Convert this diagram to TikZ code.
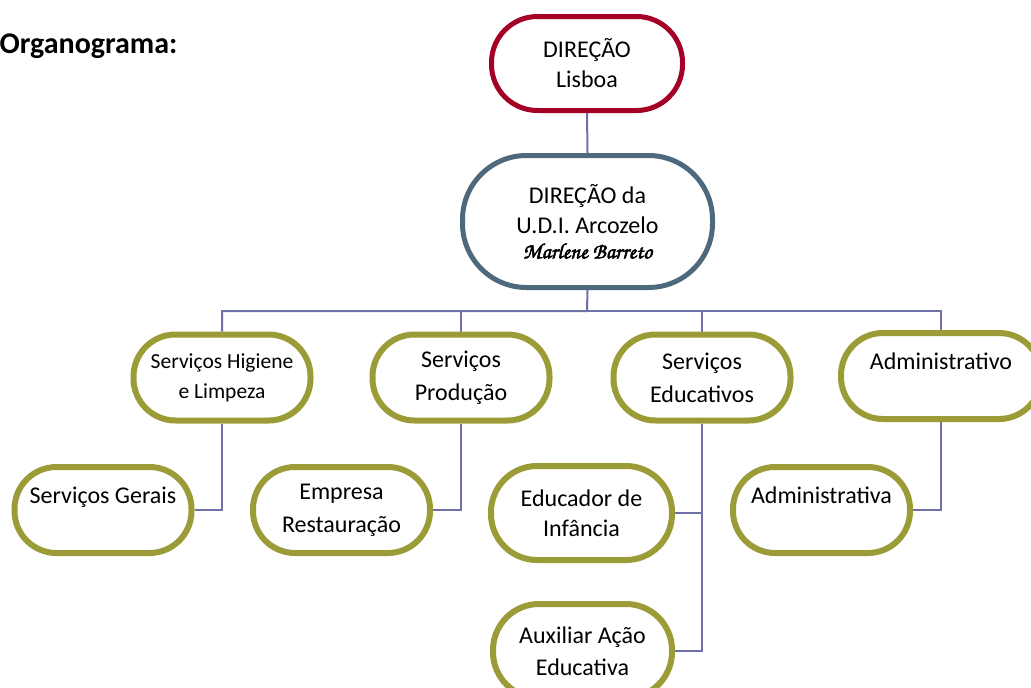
\documentclass[tikz,border=0pt]{standalone}
\usepackage{fontspec}
\setmainfont{Carlito}
\newfontfamily\sigfont{TeX Gyre Chorus}[FakeBold=2.5]
\usetikzlibrary{backgrounds}
\definecolor{redc}{RGB}{165,0,38}
\definecolor{bluec}{RGB}{79,105,124}
\definecolor{olivec}{RGB}{155,155,55}
\definecolor{linec}{RGB}{112,112,168}
\begin{document}
\begin{tikzpicture}[x=1pt,y=-1pt,
  box/.style={draw, fill=white, inner sep=0pt, align=center,
    font=\fontsize{24}{30}\selectfont},
  topbox/.style={box, draw=redc, line width=5pt, minimum width=191pt,
    minimum height=94pt, rounded corners=46pt},
  udibox/.style={box, draw=bluec, line width=5pt, minimum width=250pt,
    minimum height=132pt, rounded corners=64pt},
  leaf/.style={box, draw=olivec, line width=6pt, minimum width=177pt,
    minimum height=86pt, rounded corners=42pt},
  conn/.style={draw=linec, line width=2pt}]
\useasboundingbox (0,0) rectangle (1031,688);
\clip (0,0) rectangle (1031,688);

\node[anchor=base west, font=\fontsize{30}{36}\selectfont\bfseries] (title) at (-4,53) {Organograma:};

\node[topbox] (lisboa) at (587,63.5) {DIREÇÃO\\Lisboa};
\node[udibox] (udi) at (587.5,221.5) {DIREÇÃO da\\U.D.I. Arcozelo\\[-5pt]{\sigfont\fontsize{22}{24}\selectfont Marlene Barreto}};

\node[leaf, font=\fontsize{21.5}{30}\selectfont] (higiene) at (222,377.5) {Serviços Higiene\\e Limpeza};
\node[leaf] (producao) at (461,377.5) {Serviços\\[3pt]Produção};
\node[leaf] (educativos) at (702,377.5) {Serviços\\[3pt]Educativos};
\node[leaf, minimum width=200pt] (admin) at (941,376) {Administrativo\\~};

\node[leaf] (gerais) at (103,510) {Serviços Gerais\\~};
\node[leaf] (empresa) at (341.5,510) {Empresa\\[3pt]Restauração};
\node[leaf, minimum width=181pt, minimum height=94pt, rounded corners=46pt] (educador) at (581.5,513) {Educador de\\Infância};
\node[leaf, minimum width=179pt, minimum height=94pt, rounded corners=46pt] (auxiliar) at (582.5,651) {Auxiliar Ação\\[2pt]Educativa};
\node[leaf] (administrativa) at (821.5,510) {Administrativa\\~};

\coordinate (bus) at (587,311);
\begin{scope}[on background layer]
\draw[conn] (lisboa.south) -- (udi.north);
\draw[conn] (udi.south) -- (bus) -| (higiene.north);
\draw[conn] (bus) -| (producao.north);
\draw[conn] (bus) -| (educativos.north);
\draw[conn] (bus) -| (admin.north);
\draw[conn] (higiene.south) |- (gerais.east);
\draw[conn] (producao.south) |- (empresa.east);
\draw[conn] (educativos.south) |- (educador.east);
\draw[conn] (educativos.south) |- (auxiliar.east);
\draw[conn] (admin.south) |- (administrativa.east);
\end{scope}
\end{tikzpicture}
\end{document}
